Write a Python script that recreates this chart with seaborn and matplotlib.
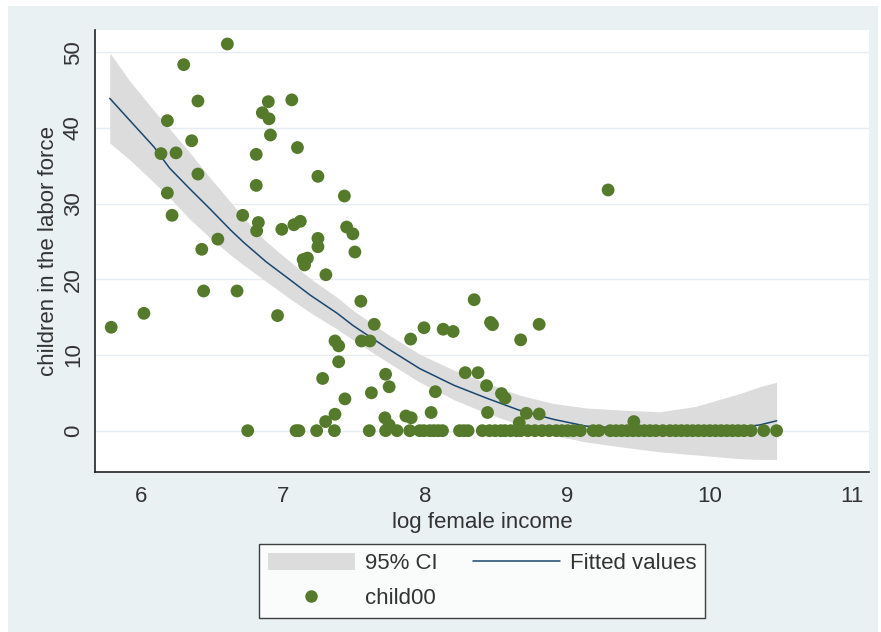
import numpy as np
import pandas as pd
import matplotlib
matplotlib.use("Agg")
import matplotlib.pyplot as plt
from matplotlib.patches import Rectangle, Patch
from matplotlib.lines import Line2D
import seaborn as sns

# ---- data ----
pts_x = [5.79, 6.02, 6.14, 6.185, 6.185, 6.218, 6.246, 6.30, 6.356, 6.40, 6.40, 6.427,
         6.44, 6.54, 6.607, 6.675, 6.715, 6.81, 6.81, 6.825, 6.813, 6.853, 6.895, 6.90,
         6.91, 6.96, 6.99, 7.06, 7.075, 7.10, 7.12, 7.14, 7.17, 7.15, 7.244, 7.244,
         7.244, 7.30, 7.277, 7.298, 7.364, 7.39, 7.39, 7.364, 7.434, 7.43, 7.446, 7.49,
         7.504, 7.546, 7.55, 7.61, 7.62, 7.64, 7.72, 7.745, 7.715, 7.745, 7.863, 7.90,
         7.896, 7.99, 8.04, 8.07, 8.125, 8.195, 8.28, 8.343, 8.37, 8.43, 8.437, 8.458,
         8.472, 8.535, 8.56, 8.66, 8.67, 8.71, 8.80, 8.80, 9.285, 9.466]
pts_y = [13.66, 15.5, 36.6, 40.95, 31.4, 28.45, 36.7, 48.35, 38.3, 43.55, 33.9, 23.96,
         18.45, 25.3, 51.08, 18.45, 28.45, 36.5, 32.4, 27.5, 26.4, 42.0, 43.46, 41.2,
         39.06, 15.2, 26.6, 43.7, 27.2, 37.4, 27.66, 22.6, 22.8, 21.9, 33.6, 25.4,
         24.3, 20.6, 6.9, 1.2, 11.85, 11.2, 9.1, 2.17, 4.2, 31.0, 26.9, 26.0,
         23.6, 17.1, 11.85, 11.85, 5.0, 14.05, 7.45, 5.8, 1.7, 0.75, 1.94, 1.7,
         12.1, 13.6, 2.4, 5.15, 13.4, 13.1, 7.66, 17.3, 7.66, 5.95, 2.4, 14.3,
         14.0, 4.9, 4.3, 1.05, 12.0, 2.3, 2.2, 14.05, 31.8, 1.2]
zero_x = [6.75, 7.09, 7.11, 7.235, 7.36, 7.605, 7.72, 7.80, 7.89, 7.96, 7.99, 8.03,
          8.06, 8.09, 8.12, 8.24, 8.27, 8.30, 8.40, 8.45, 8.49, 8.53, 8.56, 8.60,
          8.64, 8.67, 8.72, 8.77, 8.82, 8.87, 8.92, 8.96, 9.00, 9.04, 9.09, 9.18,
          9.22, 9.30, 9.34, 9.38, 9.42, 9.46, 9.50, 9.54, 9.58, 9.62, 9.67, 9.72,
          9.76, 9.80, 9.84, 9.88, 9.92, 9.96, 10.00, 10.04, 10.08, 10.12, 10.16,
          10.20, 10.24, 10.29, 10.38, 10.47]

fit_x = [5.78, 5.92, 6.09, 6.20, 6.34, 6.49, 6.63, 6.72, 6.88, 7.05, 7.19, 7.38, 7.49,
         7.73, 7.96, 8.20, 8.43, 8.66, 8.90, 9.13, 9.40, 9.65, 9.90, 10.21, 10.35, 10.47]
fit_y = [43.9, 41.0, 37.5, 34.7, 32.0, 29.2, 26.5, 24.9, 22.3, 19.9, 17.9, 15.5, 13.9,
         10.9, 8.2, 6.0, 4.3, 2.7, 1.5, 0.6, 0.3, 0.3, 0.3, 0.45, 0.75, 1.3]
ci_lo = [38.0, 35.8, 32.8, 30.8, 28.0, 25.4, 23.2, 21.9, 19.7, 17.4, 15.6, 13.4, 12.0,
         9.1, 6.4, 4.1, 2.3, 0.8, -0.6, -1.5, -2.2, -2.8, -3.2, -3.7, -3.8, -3.8]
ci_hi = [49.9, 46.2, 42.3, 39.9, 36.8, 33.3, 30.2, 28.1, 25.0, 22.3, 20.1, 17.6, 15.9,
         12.8, 10.1, 8.0, 6.3, 4.7, 3.6, 3.0, 2.7, 2.5, 3.2, 4.9, 5.8, 6.4]

x_ticks = [6, 7, 8, 9, 10, 11]
y_ticks = [0, 10, 20, 30, 40, 50]

# ---- style ----
sns.set_style("white")
plt.rcParams['font.family'] = ['Liberation Sans', 'DejaVu Sans']

BG = "#E9F1F3"
GREEN = "#557A2B"
NAVY = "#1A476F"
CIGRAY = "#DCDCDC"
TXT = "#333333"

fig = plt.figure(figsize=(8.81, 6.32), dpi=100, facecolor="white")
fig.patches.append(Rectangle((8 / 881, 0), 870 / 881, 1 - 6 / 632,
                             transform=fig.transFigure, facecolor=BG,
                             edgecolor="none", zorder=-10))
ax = fig.add_axes([95 / 881, 1 - 472 / 632, (869 - 95) / 881, (472 - 30) / 632])
ax.set_facecolor("white")

scatter_df = pd.DataFrame({"x": pts_x + zero_x,
                           "y": pts_y + [0.0] * len(zero_x)})
fit_df = pd.DataFrame({"x": fit_x, "y": fit_y, "lo": ci_lo, "hi": ci_hi})

ax.fill_between(fit_df["x"], fit_df["lo"], fit_df["hi"], color=CIGRAY,
                linewidth=0, zorder=1)
sns.lineplot(data=fit_df, x="x", y="y", ax=ax, color=NAVY, linewidth=1.1,
             zorder=2, sort=False)
sns.scatterplot(data=scatter_df, x="x", y="y", ax=ax, color=GREEN, s=85,
                edgecolor="none", zorder=3)

ax.set_xlim(5.676, 11.12)
ax.set_ylim(-5.46, 52.93)
ax.set_xticks(x_ticks)
ax.set_yticks(y_ticks)
ax.set_xticklabels([str(t) for t in x_ticks], fontsize=16, color=TXT)
ax.set_yticklabels([str(t) for t in y_ticks], fontsize=16, color=TXT,
                   rotation=90, va="center")
ax.yaxis.grid(True, color="#E4EDF2", linewidth=1.0, zorder=0)
ax.xaxis.grid(False)
ax.set_axisbelow(True)
for s in ["top", "right"]:
    ax.spines[s].set_visible(False)
for s in ["left", "bottom"]:
    ax.spines[s].set_color("#222222")
    ax.spines[s].set_linewidth(1.2)
ax.tick_params(axis="x", direction="out", length=7, width=1.1,
               color="#222222", pad=3)
ax.tick_params(axis="y", direction="out", length=6, width=1.1,
               color="#222222", pad=2)
ax.set_xlabel("log female income", fontsize=16, color=TXT, labelpad=4)
ax.set_ylabel("children in the labor force", fontsize=16, color=TXT, labelpad=3)

handles = [Patch(facecolor=CIGRAY, edgecolor="none"),
           Line2D([], [], marker="o", linestyle="none", color=GREEN,
                  markersize=9, markeredgewidth=0),
           Line2D([], [], color=NAVY, linewidth=1.1)]
labels = ["95% CI", "child00", "Fitted values"]
leg = fig.legend(handles, labels, ncol=2, loc="center",
                 bbox_to_anchor=(482 / 881, 1 - 581 / 632),
                 fontsize=16, frameon=True, fancybox=False,
                 handlelength=3.9, handleheight=0.8, handletextpad=0.45,
                 columnspacing=1.6, labelspacing=0.6, borderpad=0.4)
leg.get_frame().set_edgecolor("#111111")
leg.get_frame().set_linewidth(1.0)
leg.get_frame().set_facecolor("white")
for t in leg.get_texts():
    t.set_color(TXT)

fig.savefig("out.png", dpi=100, facecolor=fig.get_facecolor())
